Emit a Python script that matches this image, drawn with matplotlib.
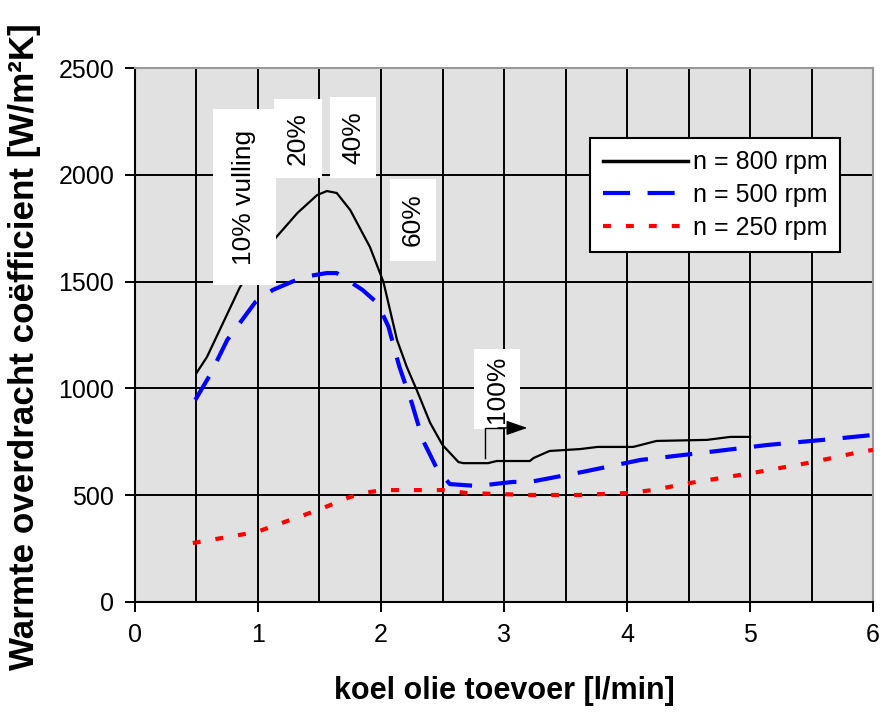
import matplotlib
matplotlib.use("Agg")
import matplotlib.pyplot as plt
from matplotlib.patches import Rectangle
from matplotlib.ticker import MultipleLocator

FONT = "Liberation Sans"

# 800 rpm
x800 = [0.5, 0.585, 0.854, 1.0, 1.15, 1.32, 1.48, 1.56, 1.64, 1.75, 1.91, 2.02, 2.13,
        2.21, 2.29, 2.40, 2.50, 2.63, 2.67, 2.87, 2.94, 3.21, 3.24, 3.37, 3.62, 3.76,
        4.05, 4.24, 4.65, 4.84, 5.0]
y800 = [1072, 1147, 1475, 1600, 1709, 1821, 1905, 1924, 1915, 1835, 1662, 1498, 1227,
        1100, 993, 838, 735, 655, 650, 650, 660, 660, 674, 707, 716, 726,
        726, 754, 759, 773, 773]

# 500 rpm
x500 = [0.49, 0.61, 0.75, 0.98, 1.12, 1.37, 1.56, 1.64, 1.85, 1.97, 2.06, 2.15, 2.25,
        2.34, 2.46, 2.56, 2.78, 3.07, 3.21, 3.64, 4.11, 4.59, 5.14, 5.67, 6.0]
y500 = [946, 1063, 1227, 1405, 1461, 1522, 1540, 1540, 1461, 1400, 1290, 1100, 932,
        758, 618, 552, 543, 562, 562, 609, 665, 697, 735, 763, 782]

# 250 rpm
x250 = [0.47, 0.99, 1.49, 1.75, 1.91, 2.02, 2.5, 2.7, 3.21, 3.6, 4.0, 4.21, 4.51,
        5.02, 5.51, 5.89, 6.0]
y250 = [276, 328, 431, 492, 515, 524, 524, 510, 501, 501, 510, 524, 557,
        604, 655, 702, 712]

labels = ["n = 800 rpm", "n = 500 rpm", "n = 250 rpm"]

# (text, box x0, box x1, box y0, box y1)
notes = [
    ("10% vulling", 0.634, 1.146, 1484, 2308),
    ("20%", 1.13, 1.52, 1985, 2355),
    ("40%", 1.585, 1.96, 1985, 2364),
    ("60%", 2.073, 2.447, 1597, 1980),
    ("100%", 2.756, 3.13, 810, 1185),
]

fig = plt.figure(figsize=(8.84, 7.13), dpi=100)
ax = fig.add_axes([0.1527, 0.1557, 0.9876 - 0.1527, 0.9046 - 0.1557])
ax.set_facecolor("#e1e1e1")

ax.set_xlim(0, 6)
ax.set_ylim(0, 2500)
ax.xaxis.set_major_locator(MultipleLocator(1))
ax.xaxis.set_minor_locator(MultipleLocator(0.5))
ax.yaxis.set_major_locator(MultipleLocator(500))
ax.grid(True, which="both", axis="x", color="black", lw=1.4)
ax.grid(True, which="major", axis="y", color="black", lw=1.4)
ax.set_axisbelow(True)

ax.tick_params(axis="both", which="major", direction="out", length=7, width=1.4,
               color="black", labelsize=18, pad=8)
ax.tick_params(axis="x", which="minor", length=0)
for lab in ax.get_xticklabels() + ax.get_yticklabels():
    lab.set_family(FONT)

for s in ["left", "bottom"]:
    ax.spines[s].set_color("black")
    ax.spines[s].set_linewidth(1.5)
for s in ["top", "right"]:
    ax.spines[s].set_color("#999999")
    ax.spines[s].set_linewidth(1.5)

l1, = ax.plot(x800, y800, color="black", lw=1.6, zorder=3)
l2, = ax.plot(x500, y500, color="blue", lw=3, dashes=(6.5, 4.2), zorder=3)
l3, = ax.plot(x250, y250, color="red", lw=3, dashes=(1.9, 3.6), zorder=3)

for txt, x0, x1, y0, y1 in notes:
    ax.add_patch(Rectangle((x0, y0), x1 - x0, y1 - y0, facecolor="white",
                           edgecolor="none", zorder=4))
    ax.text((x0 + x1) / 2, (y0 + y1) / 2, txt, rotation=90, ha="center", va="center",
            fontsize=19, family=FONT, zorder=5)

# arrow from the 100% label
ax.plot([2.846, 2.846, 3.0], [674, 815, 815], color="black", lw=1.0, zorder=5)
ax.annotate("", xy=(3.19, 815), xytext=(2.95, 815), zorder=5,
            arrowprops=dict(arrowstyle="-|>,head_length=1.3,head_width=0.45",
                            color="black", lw=1.0, shrinkA=0, shrinkB=0))

leg = ax.legend([l1, l2, l3], labels, loc="upper right", bbox_to_anchor=(0.955, 0.869),
                prop={"family": FONT, "size": 18}, frameon=True, fancybox=False,
                handlelength=3.4, handletextpad=0.2, labelspacing=0.35,
                borderpad=0.5, borderaxespad=0)
leg.get_frame().set_edgecolor("black")
leg.get_frame().set_linewidth(1.5)
leg.get_frame().set_facecolor("white")
leg.get_frame().set_alpha(1)
leg.set_zorder(6)
leg.get_lines()[0].set_linewidth(2.5)

ax.set_xlabel("koel olie toevoer [l/min]", family=FONT, fontweight="bold",
              fontsize=22)
ax.xaxis.set_label_coords(0.5, -0.139)
ax.set_ylabel("Warmte overdracht coëfficient [W/m²K]", family=FONT, fontweight="bold",
              fontsize=25.2)
ax.yaxis.set_label_coords(-0.127, 0.4775)

fig.savefig("out.png", dpi=100)
